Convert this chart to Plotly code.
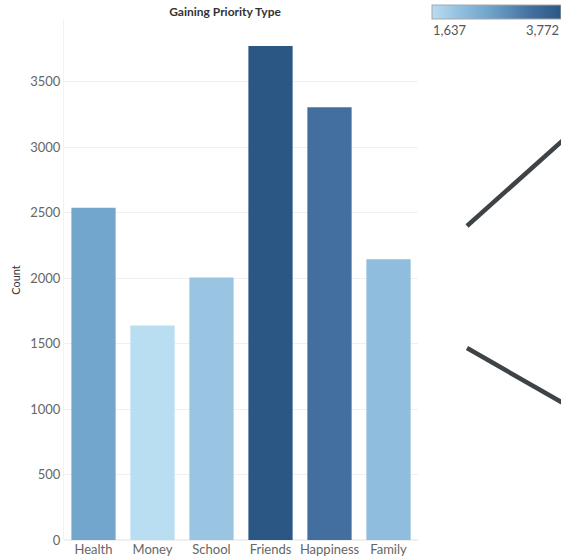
import plotly.graph_objects as go

# Counts per priority type
categories = ["Health", "Money", "School", "Friends", "Happiness", "Family"]
counts = [2537, 1637, 2005, 3772, 3303, 2143]
y_ticks = [0, 500, 1000, 1500, 2000, 2500, 3000, 3500]

blue_scale = [
    [0.0, "#b9ddf1"],
    [0.2, "#94c1e0"],
    [0.45, "#6fa3ca"],
    [0.75, "#4672a2"],
    [1.0, "#2a5783"],
]

cmin, cmax = min(counts), max(counts)

W, H = 561, 559
PL, PR, PT, PB = 64, 418, 20, 540  # plot area in pixels
pw, ph = PR - PL, PB - PT


def px(x):
    return (x - PL) / pw


def py(y):
    return (PB - y) / ph


fig = go.Figure()
fig.add_trace(go.Bar(
    x=categories,
    y=counts,
    marker=dict(
        color=counts,
        colorscale=blue_scale,
        cmin=cmin,
        cmax=cmax,
        line=dict(width=0),
        showscale=True,
        colorbar=dict(
            orientation="h",
            x=px(432), xanchor="left",
            y=py(5), yanchor="top",
            lenmode="pixels", len=129,
            thicknessmode="pixels", thickness=14,
            outlinecolor="#a8a8a8", outlinewidth=1,
            showticklabels=False, ticks="",
            xpad=0, ypad=0,
        ),
    ),
    hoverinfo="x+y",
))

fig.update_layout(
    width=W, height=H,
    margin=dict(l=PL, r=W - PR, t=PT, b=H - PB, autoexpand=False),
    plot_bgcolor="white", paper_bgcolor="white",
    bargap=0.25,
    showlegend=False,
    font=dict(family="Lato, Open Sans, sans-serif", color="#666666", size=13),
    xaxis=dict(
        showgrid=False, showline=False, zeroline=False,
        tickfont=dict(size=13, color="#666666"),
        ticks="", ticklen=0,
    ),
    yaxis=dict(
        range=[0, 3970],
        tickvals=y_ticks,
        ticktext=[str(v) for v in y_ticks],
        showgrid=True, gridcolor="#f0f0f0", gridwidth=1,
        zeroline=True, zerolinecolor="#f0f0f0",
        showline=True, linecolor="#f2f2f2",
        ticks="", tickfont=dict(size=13, color="#666666"),
        title=dict(text="Count", font=dict(size=11, color="#333333"), standoff=7),
    ),
    title=dict(
        text="<b>Gaining Priority Type</b>",
        x=225 / W, xanchor="center",
        y=1 - 12 / H, yanchor="middle",
        font=dict(size=12, color="#333333"),
    ),
)

# colour legend end labels
for val, xp, anchor in [(cmin, px(431), "left"), (cmax, px(561), "right")]:
    fig.add_annotation(
        text=f"{val:,}", xref="paper", yref="paper",
        x=xp, y=py(30), xanchor=anchor, yanchor="middle",
        showarrow=False, font=dict(size=13, color="#555555"),
    )

# collapse chevron on the right side
for x0, y0, x1, y1 in [(467, 226, 575, 129.5), (467, 348, 575, 410)]:
    fig.add_shape(
        type="line", xref="paper", yref="paper",
        x0=px(x0), y0=py(y0), x1=px(x1), y1=py(y1),
        line=dict(color="#3d4347", width=4.5),
    )

fig.write_html("out.html")
